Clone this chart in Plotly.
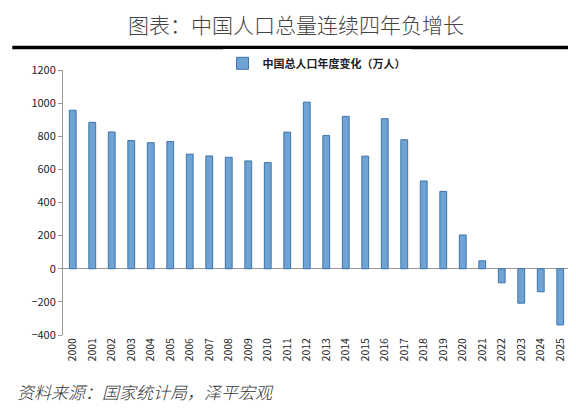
import plotly.graph_objects as go

years = [str(y) for y in range(2000, 2026)]
change = [957, 884, 826, 774, 761, 768, 692, 681, 673, 651, 641, 825, 1006, 804, 920, 680,
          906, 779, 530, 467, 204, 48, -85, -208, -139, -339]

fig = go.Figure()
fig.add_trace(go.Bar(
    x=years, y=change, name="中国总人口年度变化（万人）",
    marker=dict(color="#6fa3d6", line=dict(color="#3f74a8", width=1)),
    width=0.35,
))

fig.update_layout(
    width=576, height=415,
    margin=dict(l=55, r=14, t=62, b=88),
    paper_bgcolor="white", plot_bgcolor="white",
    font=dict(family="Noto Sans CJK SC", size=11, color="#222"),
    showlegend=True,
    legend=dict(orientation="h", x=0.5, xanchor="center", y=1.08, yanchor="top",
                font=dict(size=11, color="#222", weight="bold"), itemwidth=30),
    title=dict(text="图表：中国人口总量连续四年负增长", x=0.5, xanchor="center", y=0.975,
               font=dict(size=21, color="#444", weight=300)),
    bargap=0.5,
)
fig.update_yaxes(range=[-400, 1200], dtick=200, showgrid=False, zeroline=True,
                 zerolinecolor="#999", zerolinewidth=1, showline=True, linecolor="#999",
                 ticks="outside", tickcolor="#999", ticklen=4, tickfont=dict(size=11))
fig.update_xaxes(showgrid=False, tickangle=-90, tickfont=dict(size=10.5), ticks="",
                 showline=False)

fig.add_shape(type="line", xref="paper", yref="paper", x0=-0.1, x1=1.03, y0=1.085, y1=1.085,
              line=dict(color="black", width=3.5))
fig.add_annotation(text="<i>资料来源：国家统计局，泽平宏观</i>", xref="paper", yref="paper",
                   x=-0.095, y=-0.215, xanchor="left", yanchor="middle", showarrow=False,
                   font=dict(size=17, color="#333", weight=300))

fig.write_html("out.html")
